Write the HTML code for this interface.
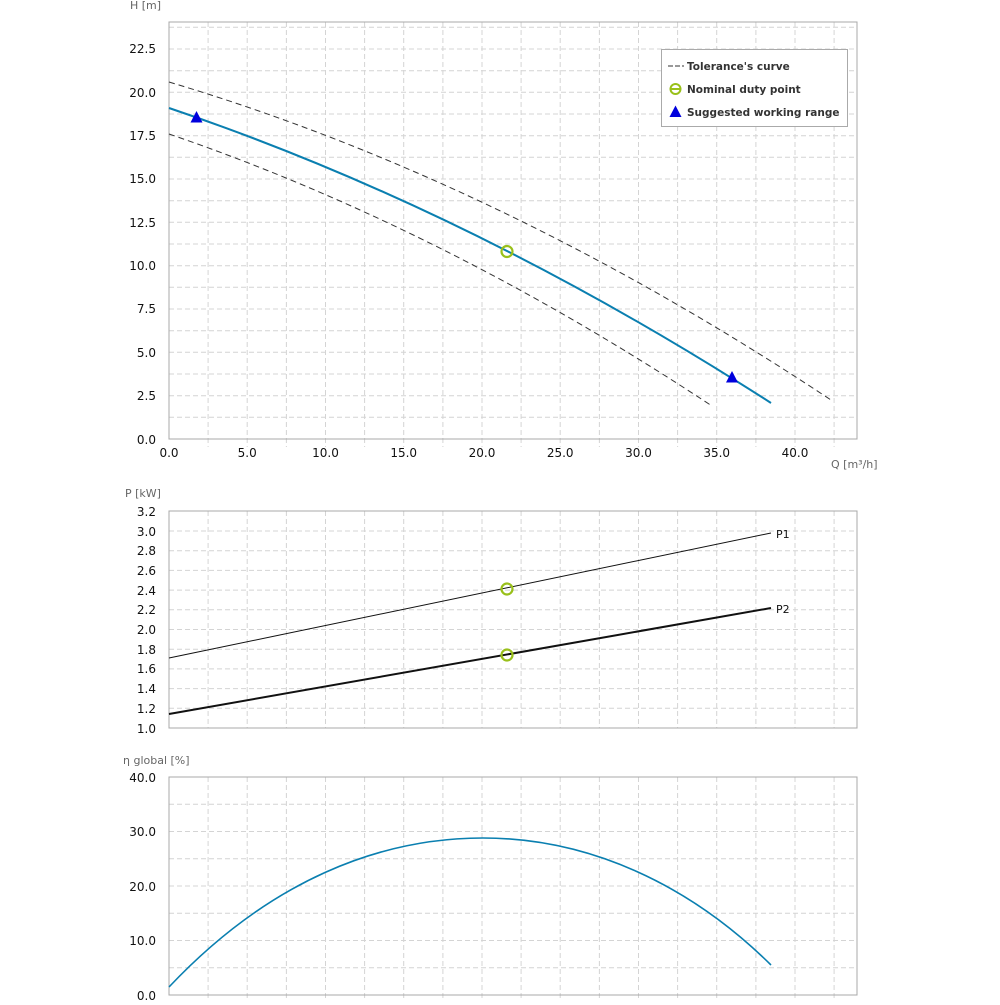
<!DOCTYPE html>
<html><head><meta charset="utf-8"><style>
html,body{margin:0;padding:0;background:#fff}
svg text{font-family:"DejaVu Sans","Liberation Sans",sans-serif}
</style></head><body>
<svg width="1000" height="1000" viewBox="0 0 1000 1000" xmlns="http://www.w3.org/2000/svg">
<g stroke="#d4d4d4" stroke-width="1" stroke-dasharray="5,3">
<line x1="208.1" y1="22" x2="208.1" y2="447"/><line x1="247.2" y1="22" x2="247.2" y2="447"/><line x1="286.4" y1="22" x2="286.4" y2="447"/><line x1="325.5" y1="22" x2="325.5" y2="447"/><line x1="364.6" y1="22" x2="364.6" y2="447"/><line x1="403.7" y1="22" x2="403.7" y2="447"/><line x1="442.9" y1="22" x2="442.9" y2="447"/><line x1="482" y1="22" x2="482" y2="447"/><line x1="521.1" y1="22" x2="521.1" y2="447"/><line x1="560.2" y1="22" x2="560.2" y2="447"/><line x1="599.4" y1="22" x2="599.4" y2="447"/><line x1="638.5" y1="22" x2="638.5" y2="447"/><line x1="677.6" y1="22" x2="677.6" y2="447"/><line x1="716.7" y1="22" x2="716.7" y2="447"/><line x1="755.9" y1="22" x2="755.9" y2="447"/><line x1="795" y1="22" x2="795" y2="447"/><line x1="834.1" y1="22" x2="834.1" y2="447"/>
<line x1="169" x2="857" y1="417.3" y2="417.3"/><line x1="169" x2="857" y1="395.7" y2="395.7"/><line x1="169" x2="857" y1="374" y2="374"/><line x1="169" x2="857" y1="352.3" y2="352.3"/><line x1="169" x2="857" y1="330.7" y2="330.7"/><line x1="169" x2="857" y1="309" y2="309"/><line x1="169" x2="857" y1="287.3" y2="287.3"/><line x1="169" x2="857" y1="265.7" y2="265.7"/><line x1="169" x2="857" y1="244" y2="244"/><line x1="169" x2="857" y1="222.3" y2="222.3"/><line x1="169" x2="857" y1="200.7" y2="200.7"/><line x1="169" x2="857" y1="179" y2="179"/><line x1="169" x2="857" y1="157.3" y2="157.3"/><line x1="169" x2="857" y1="135.7" y2="135.7"/><line x1="169" x2="857" y1="114" y2="114"/><line x1="169" x2="857" y1="92.3" y2="92.3"/><line x1="169" x2="857" y1="70.7" y2="70.7"/><line x1="169" x2="857" y1="49" y2="49"/><line x1="169" x2="857" y1="27.3" y2="27.3"/>
<line x1="208.1" y1="511" x2="208.1" y2="728"/><line x1="247.2" y1="511" x2="247.2" y2="728"/><line x1="286.4" y1="511" x2="286.4" y2="728"/><line x1="325.5" y1="511" x2="325.5" y2="728"/><line x1="364.6" y1="511" x2="364.6" y2="728"/><line x1="403.7" y1="511" x2="403.7" y2="728"/><line x1="442.9" y1="511" x2="442.9" y2="728"/><line x1="482" y1="511" x2="482" y2="728"/><line x1="521.1" y1="511" x2="521.1" y2="728"/><line x1="560.2" y1="511" x2="560.2" y2="728"/><line x1="599.4" y1="511" x2="599.4" y2="728"/><line x1="638.5" y1="511" x2="638.5" y2="728"/><line x1="677.6" y1="511" x2="677.6" y2="728"/><line x1="716.7" y1="511" x2="716.7" y2="728"/><line x1="755.9" y1="511" x2="755.9" y2="728"/><line x1="795" y1="511" x2="795" y2="728"/><line x1="834.1" y1="511" x2="834.1" y2="728"/>
<line x1="169" x2="857" y1="708.3" y2="708.3"/><line x1="169" x2="857" y1="688.6" y2="688.6"/><line x1="169" x2="857" y1="668.9" y2="668.9"/><line x1="169" x2="857" y1="649.2" y2="649.2"/><line x1="169" x2="857" y1="629.5" y2="629.5"/><line x1="169" x2="857" y1="609.8" y2="609.8"/><line x1="169" x2="857" y1="590.1" y2="590.1"/><line x1="169" x2="857" y1="570.4" y2="570.4"/><line x1="169" x2="857" y1="550.7" y2="550.7"/><line x1="169" x2="857" y1="531" y2="531"/>
<line x1="208.1" y1="777" x2="208.1" y2="1000"/><line x1="247.2" y1="777" x2="247.2" y2="1000"/><line x1="286.4" y1="777" x2="286.4" y2="1000"/><line x1="325.5" y1="777" x2="325.5" y2="1000"/><line x1="364.6" y1="777" x2="364.6" y2="1000"/><line x1="403.7" y1="777" x2="403.7" y2="1000"/><line x1="442.9" y1="777" x2="442.9" y2="1000"/><line x1="482" y1="777" x2="482" y2="1000"/><line x1="521.1" y1="777" x2="521.1" y2="1000"/><line x1="560.2" y1="777" x2="560.2" y2="1000"/><line x1="599.4" y1="777" x2="599.4" y2="1000"/><line x1="638.5" y1="777" x2="638.5" y2="1000"/><line x1="677.6" y1="777" x2="677.6" y2="1000"/><line x1="716.7" y1="777" x2="716.7" y2="1000"/><line x1="755.9" y1="777" x2="755.9" y2="1000"/><line x1="795" y1="777" x2="795" y2="1000"/><line x1="834.1" y1="777" x2="834.1" y2="1000"/>
<line x1="169" x2="857" y1="967.75" y2="967.75"/><line x1="169" x2="857" y1="940.5" y2="940.5"/><line x1="169" x2="857" y1="913.25" y2="913.25"/><line x1="169" x2="857" y1="886" y2="886"/><line x1="169" x2="857" y1="858.75" y2="858.75"/><line x1="169" x2="857" y1="831.5" y2="831.5"/><line x1="169" x2="857" y1="804.25" y2="804.25"/>
</g>
<g fill="none" stroke="#a8a8a8" stroke-width="1">
<rect x="169" y="22" width="688" height="417"/>
<rect x="169" y="511" width="688" height="217"/>
<rect x="169" y="777" width="688" height="218"/>
</g>
<g fill="none">
<path d="M169,82 Q500,180.6 831,400" stroke="#333" stroke-width="1" stroke-dasharray="6,4"/>
<path d="M169,134 Q440.5,226.8 712,406" stroke="#333" stroke-width="1" stroke-dasharray="6,4"/>
<path d="M169,108 Q470,209.5 771,403" stroke="#0a7fb0" stroke-width="2"/>
<circle cx="507" cy="251.5" r="5.5" stroke="#99c01a" stroke-width="2.2"/>
</g>
<polygon points="196.5,111 190.5,122.5 202.5,122.5" fill="#0000dd"/>
<polygon points="732,371 726,382.5 738,382.5" fill="#0000dd"/>
<rect x="661.5" y="49.5" width="186" height="77" fill="#fff" stroke="#aaa"/>
<line x1="668" y1="66" x2="684" y2="66" stroke="#333" stroke-dasharray="5,2"/>
<circle cx="675.5" cy="89" r="5" fill="none" stroke="#99c01a" stroke-width="2"/>
<line x1="671" y1="89" x2="680" y2="89" stroke="#99c01a" stroke-width="2"/>
<polygon points="675.5,105.5 669.5,117 681.5,117" fill="#0000dd"/>
<g font-size="10.5" font-weight="bold" fill="#333">
<text x="687" y="70">Tolerance's curve</text>
<text x="687" y="93">Nominal duty point</text>
<text x="687" y="116">Suggested working range</text>
</g>
<line x1="169" y1="658" x2="771" y2="533" stroke="#111" stroke-width="1"/>
<line x1="169" y1="714" x2="771" y2="608" stroke="#111" stroke-width="2"/>
<circle cx="507" cy="589" r="5.5" fill="none" stroke="#99c01a" stroke-width="2.2"/>
<circle cx="507" cy="655" r="5.5" fill="none" stroke="#99c01a" stroke-width="2.2"/>
<g font-size="11" fill="#111"><text x="776" y="538">P1</text><text x="776" y="613">P2</text></g>
<path d="M169,987 C270,880 380,838 483,838 C590,838 690,885 771,965" fill="none" stroke="#0a7fb0" stroke-width="1.6"/>
<g font-size="11" fill="#666">
<text x="130" y="9">H [m]</text>
<text x="831" y="468">Q [m³/h]</text>
<text x="125" y="497">P [kW]</text>
<text x="123" y="764">η global [%]</text>
</g>
<g font-size="12" fill="#111" text-anchor="end">
<text x="156" y="53">22.5</text><text x="156" y="97">20.0</text><text x="156" y="140">17.5</text><text x="156" y="183">15.0</text><text x="156" y="227">12.5</text><text x="156" y="270">10.0</text><text x="156" y="313">7.5</text><text x="156" y="357">5.0</text><text x="156" y="400">2.5</text><text x="156" y="444">0.0</text>
<text x="156" y="516">3.2</text><text x="156" y="536">3.0</text><text x="156" y="555">2.8</text><text x="156" y="575">2.6</text><text x="156" y="595">2.4</text><text x="156" y="614">2.2</text><text x="156" y="634">2.0</text><text x="156" y="654">1.8</text><text x="156" y="673">1.6</text><text x="156" y="693">1.4</text><text x="156" y="713">1.2</text><text x="156" y="733">1.0</text>
<text x="156" y="782">40.0</text><text x="156" y="836">30.0</text><text x="156" y="891">20.0</text><text x="156" y="945">10.0</text><text x="156" y="1000">0.0</text>
</g>
<g font-size="12" fill="#111" text-anchor="middle">
<text x="169" y="457">0.0</text><text x="247.2" y="457">5.0</text><text x="325.5" y="457">10.0</text><text x="403.7" y="457">15.0</text><text x="482" y="457">20.0</text><text x="560.2" y="457">25.0</text><text x="638.5" y="457">30.0</text><text x="716.7" y="457">35.0</text><text x="795" y="457">40.0</text>
</g>
</svg>
</body></html>
